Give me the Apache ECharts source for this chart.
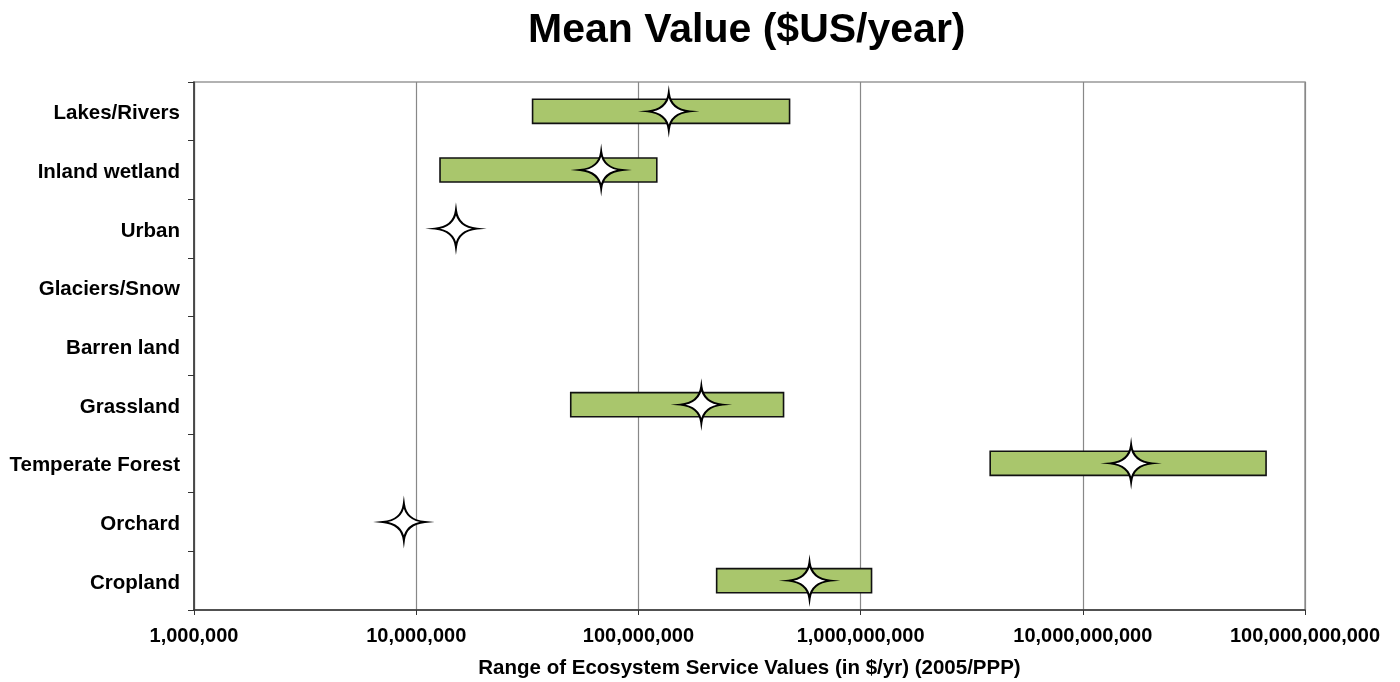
<!DOCTYPE html>
<html>
<head>
<meta charset="utf-8">
<script src="https://cdn.jsdelivr.net/npm/echarts@6/dist/echarts.min.js"></script>
<style>html,body{margin:0;padding:0;background:#fff}#c{width:1400px;height:682px}</style>
</head>
<body>
<div id="c"></div>
<script>
const categories = ['Lakes/Rivers','Inland wetland','Urban','Glaciers/Snow','Barren land','Grassland','Temperate Forest','Orchard','Cropland'];
const rangeLow  = [3.34e7, 1.28e7, null, null, null, 4.96e7, 3.83e9, null, 2.25e8];
const rangeHigh = [4.79e8, 1.21e8, null, null, null, 4.5e8, 6.68e10, null, 1.12e9];
const meanValue = [1.37e8, 6.8e7, 1.51e7, null, null, 1.92e8, 1.65e10, 8.8e6, 5.89e8];
const xTicks = [1e6, 1e7, 1e8, 1e9, 1e10, 1e11];

const barData = [];
categories.forEach((c, i) => { if (rangeLow[i] != null) barData.push([rangeLow[i], rangeHigh[i], i]); });
const starData = [];
categories.forEach((c, i) => { if (meanValue[i] != null) starData.push([meanValue[i], i]); });

const star = 'path://M0,-10 Q1,-1 10,0 Q1,1 0,10 Q-1,1 -10,0 Q-1,-1 0,-10 Z';
const FONT = 'Liberation Sans, Arial, sans-serif';

const chart = echarts.init(document.getElementById('c'));
chart.setOption({
  animation: false,
  title: {
    text: 'Mean Value ($US/year)', left: 523, top: 5,
    textStyle: {fontFamily: FONT, fontWeight: 'bold', fontSize: 41, color: '#000'}
  },
  grid: {left: 194, right: 95, top: 82, bottom: 72, show: true, borderColor: '#999', borderWidth: 1.5,
    outerBoundsMode: 'none', containLabel: false},
  xAxis: {
    type: 'log', logBase: 10, min: 1e6, max: 1e11,
    name: 'Range of Ecosystem Service Values (in $/yr) (2005/PPP)',
    nameLocation: 'middle', nameGap: 48,
    nameTextStyle: {fontFamily: FONT, fontWeight: 'bold', fontSize: 20.5, color: '#000'},
    axisLine: {show: true, lineStyle: {color: '#333', width: 1.5}},
    axisTick: {show: true, length: 5, lineStyle: {color: '#333'}},
    axisLabel: {fontFamily: FONT, fontWeight: 'bold', fontSize: 20, color: '#000', margin: 16,
      formatter: v => Math.round(v).toLocaleString('en-US')},
    splitLine: {show: true, lineStyle: {color: '#888', width: 1.2}},
    minorTick: {show: false}
  },
  yAxis: {
    type: 'category', data: categories, inverse: true,
    axisLine: {show: true, lineStyle: {color: '#333', width: 1.5}},
    axisTick: {show: true, length: 6, lineStyle: {color: '#333'}},
    axisLabel: {fontFamily: FONT, fontWeight: 'bold', fontSize: 20.5, color: '#000', margin: 14,
      verticalAlign: 'top', lineHeight: 5},
    splitLine: {show: false}
  },
  series: [
    {
      type: 'custom',
      encode: {x: [0, 1], y: 2},
      data: barData,
      renderItem: (params, api) => {
        const p1 = api.coord([api.value(0), api.value(2)]);
        const p2 = api.coord([api.value(1), api.value(2)]);
        const h = api.size([0, 1])[1] * 0.41;
        return {
          type: 'rect',
          shape: {x: p1[0], y: p1[1] - h / 2, width: p2[0] - p1[0], height: h},
          style: {fill: '#a9c66c', stroke: '#111', lineWidth: 1.6}
        };
      },
      z: 2
    },
    {
      type: 'scatter',
      data: starData,
      symbol: star,
      symbolSize: [42, 36],
      itemStyle: {color: '#fff', borderColor: '#000', borderWidth: 2, opacity: 1},
      z: 3
    }
  ]
});
</script>
</body>
</html>
